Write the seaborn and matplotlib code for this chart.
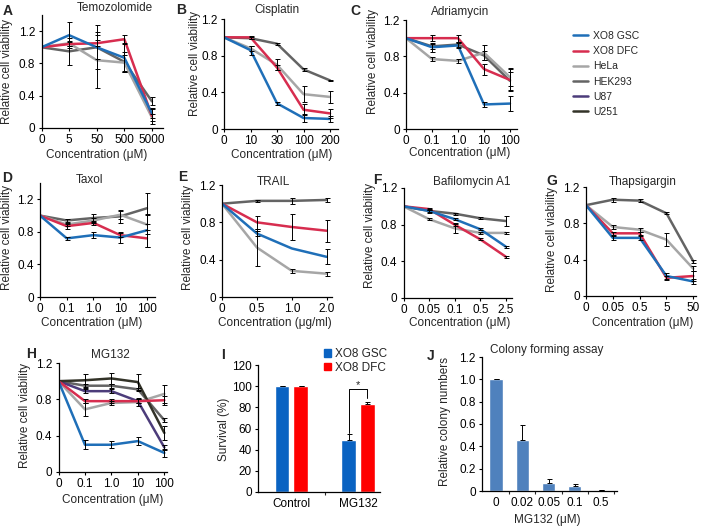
import numpy as np
import pandas as pd
import matplotlib
matplotlib.use("Agg")
import matplotlib.pyplot as plt
import seaborn as sns
from matplotlib.lines import Line2D
from matplotlib.patches import Patch

sns.set_style("ticks")
plt.rcParams['font.family'] = ['Liberation Sans', 'DejaVu Sans']
plt.rcParams['font.size'] = 8.5
plt.rcParams['axes.linewidth'] = 0.9
plt.rcParams['axes.edgecolor'] = 'black'

# ---------------- data ----------------
cell_lines = ["XO8 GSC", "XO8 DFC", "HeLa", "HEK293", "U87", "U251"]
line_colors = ["#1f6fb8", "#d72d4f", "#a6a6a6", "#646464", "#4c3c7a", "#333328"]

tmz_doses = ["0", "5", "50", "500", "5000"]
tmz_mean = {"XO8 GSC": [1.0, 1.15, 1.0, 0.87, 0.18], "XO8 DFC": [1.0, 1.04, 1.05, 1.10, 0.15],
            "HeLa": [1.0, 1.05, 0.84, 0.81, 0.13], "HEK293": [1.0, 0.95, 1.0, 0.82, 0.33]}
tmz_err = {"XO8 GSC": [0, 0.16, 0.27, 0.17, 0.06], "XO8 DFC": [0, 0.02, 0.04, 0.05, 0.10],
           "HeLa": [0, 0.03, 0.35, 0.10, 0.04], "HEK293": [0, 0.17, 0.15, 0.12, 0.05]}

cis_doses = ["0", "10", "30", "100", "200"]
cis_mean = {"XO8 GSC": [1.0, 0.86, 0.28, 0.12, 0.11], "XO8 DFC": [1.0, 1.0, 0.67, 0.21, 0.17],
            "HeLa": [1.0, 0.88, 0.70, 0.38, 0.35], "HEK293": [1.0, 0.99, 0.93, 0.65, 0.53]}
cis_err = {"XO8 GSC": [0, 0.05, 0.02, 0.04, 0.03], "XO8 DFC": [0, 0.02, 0.03, 0.06, 0.05],
           "HeLa": [0, 0.03, 0.06, 0.09, 0.07], "HEK293": [0, 0.01, 0.01, 0.015, 0.01]}

adr_doses = ["0", "0.1", "1.0", "10", "100"]
adr_mean = {"XO8 GSC": [1.0, 0.90, 0.92, 0.27, 0.28], "XO8 DFC": [1.0, 1.0, 1.0, 0.66, 0.54],
            "HeLa": [1.0, 0.77, 0.75, 0.84, 0.57], "HEK293": [1.0, 0.91, 0.93, 0.81, 0.53]}
adr_err = {"XO8 GSC": [0, 0.05, 0.03, 0.03, 0.08], "XO8 DFC": [0, 0.03, 0.04, 0.06, 0.12],
           "HeLa": [0, 0.02, 0.02, 0.08, 0.10], "HEK293": [0, 0.03, 0.03, 0.05, 0.10]}

tax_doses = ["0", "0.1", "1.0", "10", "100"]
tax_mean = {"XO8 GSC": [1.0, 0.72, 0.76, 0.73, 0.82], "XO8 DFC": [1.0, 0.87, 0.91, 0.76, 0.72],
            "HeLa": [1.0, 0.89, 0.94, 1.01, 0.89], "HEK293": [1.0, 0.94, 0.97, 0.99, 1.09]}
tax_err = {"XO8 GSC": [0, 0.02, 0.04, 0.07, 0.20], "XO8 DFC": [0, 0.03, 0.02, 0.02, 0.10],
           "HeLa": [0, 0.02, 0.03, 0.05, 0.12], "HEK293": [0, 0.02, 0.05, 0.08, 0.19]}

trail_doses = ["0", "0.5", "1.0", "2.0"]
trail_mean = {"XO8 GSC": [1.0, 0.68, 0.52, 0.43], "XO8 DFC": [1.0, 0.80, 0.75, 0.71],
              "HeLa": [1.0, 0.53, 0.28, 0.25], "HEK293": [1.0, 1.03, 1.03, 1.04]}
trail_err = {"XO8 GSC": [0, 0.03, 0, 0.08], "XO8 DFC": [0, 0.07, 0.14, 0.12],
             "HeLa": [0, 0.20, 0.02, 0.02], "HEK293": [0, 0.01, 0.03, 0.02]}

baf_doses = ["0", "0.05", "0.1", "0.5", "2.5"]
baf_mean = {"XO8 GSC": [1.0, 0.95, 0.86, 0.75, 0.56], "XO8 DFC": [1.0, 0.97, 0.80, 0.64, 0.45],
            "HeLa": [1.0, 0.86, 0.76, 0.71, 0.71], "HEK293": [1.0, 0.95, 0.92, 0.87, 0.84]}
baf_err = {"XO8 GSC": [0, 0.01, 0.01, 0.01, 0.01], "XO8 DFC": [0, 0.01, 0.02, 0.01, 0.01],
           "HeLa": [0, 0.01, 0.05, 0.01, 0.01], "HEK293": [0, 0.02, 0.01, 0.01, 0.05]}

tg_doses = ["0", "0.05", "0.5", "5", "50"]
tg_mean = {"XO8 GSC": [1.0, 0.64, 0.64, 0.22, 0.16], "XO8 DFC": [1.0, 0.69, 0.69, 0.20, 0.22],
           "HeLa": [1.0, 0.76, 0.73, 0.62, 0.30], "HEK293": [1.0, 1.06, 1.05, 0.91, 0.38]}
tg_err = {"XO8 GSC": [0, 0.02, 0.02, 0.03, 0.03], "XO8 DFC": [0, 0.02, 0.02, 0.02, 0.06],
          "HeLa": [0, 0.02, 0.02, 0.07, 0.03], "HEK293": [0, 0.02, 0.02, 0.01, 0.02]}

mg_doses = ["0", "0.1", "1.0", "10", "100"]
mg_mean = {"XO8 GSC": [1.0, 0.30, 0.30, 0.34, 0.21], "XO8 DFC": [1.0, 0.78, 0.78, 0.78, 0.79],
           "HeLa": [1.0, 0.69, 0.76, 0.77, 0.86], "HEK293": [1.0, 0.95, 0.95, 0.91, 0.57],
           "U87": [1.0, 0.89, 0.89, 0.78, 0.27], "U251": [1.0, 1.01, 1.03, 0.99, 0.43]}
mg_err = {"XO8 GSC": [0, 0.05, 0.04, 0.04, 0.04], "XO8 DFC": [0, 0.02, 0.02, 0.02, 0.05],
          "HeLa": [0, 0.07, 0.02, 0.04, 0.10], "HEK293": [0, 0.02, 0.02, 0.02, 0.02],
          "U87": [0, 0.02, 0.02, 0.02, 0.03], "U251": [0, 0.07, 0.06, 0.09, 0.08]}

surv_groups = ["Control", "MG132"]
surv_gsc = [100, 49]
surv_gsc_err = [0.5, 5.5]
surv_dfc = [100, 83]
surv_dfc_err = [0.5, 2.0]

colony_doses = ["0", "0.02", "0.05", "0.1", "0.5"]
colony_mean = [1.0, 0.46, 0.07, 0.045, 0.005]
colony_err = [0.005, 0.13, 0.04, 0.015, 0.002]

# ---------------- layout helpers ----------------
W, H = 709, 528
fig = plt.figure(figsize=(W / 100, H / 100), dpi=100)
fig.patch.set_facecolor("white")
palette = dict(zip(cell_lines, line_colors))
draw_order = ["HEK293", "HeLa", "U87", "U251", "XO8 DFC", "XO8 GSC"]


def fx(x):
    return x / W


def fy(y):
    return 1 - y / H


def add_ax(l, t, r, b):
    return fig.add_axes([l / W, 1 - b / H, (r - l) / W, (b - t) / H])


def fmt_y(v):
    return "0" if v == 0 else f"{v:.1f}"


def style_axis(ax):
    sns.despine(ax=ax)
    ax.tick_params(direction="out", length=2.5, width=0.8, pad=2, labelsize=8.5, colors="black")
    ax.set_facecolor("white")


def label_axes(ax, xlabel, xlab_xy, ylabel, ylab_xy):
    if xlabel:
        ax.set_xlabel(xlabel, fontsize=8.5)
        ax.xaxis.set_label_coords(fx(xlab_xy[0]), fy(xlab_xy[1]), transform=fig.transFigure)
        ax.xaxis.label.set_va("center")
    else:
        ax.set_xlabel("")
    ax.set_ylabel(ylabel, fontsize=8.5)
    ax.yaxis.set_label_coords(fx(ylab_xy[0]), fy(ylab_xy[1]), transform=fig.transFigure)
    ax.yaxis.label.set_va("center")


def line_panel(rect, ylim, xlim, doses, means, errs, title, title_xy, xlab_xy, ylab_xy,
               letter, letter_xy, xlabel="Concentration (\u03bcM)"):
    ax = add_ax(*rect)
    rows = []
    for name, vals in means.items():
        for i, v in enumerate(vals):
            rows.append({"pos": i, "value": v, "cell": name})
    df = pd.DataFrame(rows)
    order = [c for c in draw_order if c in means]
    sns.lineplot(data=df, x="pos", y="value", hue="cell", hue_order=order, palette=palette,
                 linewidth=1.8, errorbar=None, legend=False, ax=ax, zorder=2)
    for name in order:
        e = np.array(errs[name], dtype=float)
        m = np.array(means[name], dtype=float)
        idx = np.where(e > 0)[0]
        ax.errorbar(idx, m[idx], yerr=e[idx], fmt="none", ecolor="black", elinewidth=0.7,
                    capsize=1.8, capthick=0.7, zorder=3)
    ax.set_xlim(*xlim)
    ax.set_ylim(*ylim)
    ax.set_xticks(range(len(doses)))
    ax.set_xticklabels(doses)
    yt = [0, 0.4, 0.8, 1.2]
    ax.set_yticks(yt)
    ax.set_yticklabels([fmt_y(v) for v in yt])
    style_axis(ax)
    label_axes(ax, xlabel, xlab_xy, "Relative cell viability", ylab_xy)
    fig.text(fx(title_xy[0]), fy(title_xy[1]), title, ha="center", va="center", fontsize=8.5)
    fig.text(fx(letter_xy[0]), fy(letter_xy[1]), letter, ha="center", va="center",
             fontsize=10, fontweight="bold")
    return ax


line_panel((41.5, 15, 163, 128), (0, 1.4), (0, 4.4), tmz_doses, tmz_mean, tmz_err,
           "Temozolomide", (115, 8), (97, 155), (7, 71), "A", (8, 11))
line_panel((224, 19, 338, 129), (0, 1.2), (0, 4.3), cis_doses, cis_mean, cis_err,
           "Cisplatin", (277, 10), (282, 155), (195, 63), "B", (181, 10))
line_panel((406, 20, 517, 129), (0, 1.2), (0, 4.27), adr_doses, adr_mean, adr_err,
           "Adriamycin", (460, 12), (460, 153), (373, 62), "C", (355, 11))
line_panel((40, 183, 155, 297), (0, 1.4), (0, 4.3), tax_doses, tax_mean, tax_err,
           "Taxol", (90, 180), (92, 323), (7, 237), "D", (7, 178))
line_panel((222, 185, 332, 297), (0, 1.2), (0, 3.15), trail_doses, trail_mean, trail_err,
           "TRAIL", (273, 182), (275, 323), (188, 238), "E", (183, 177),
           xlabel="Concentration (\u03bcg/ml)")
line_panel((403.5, 188, 512, 298), (0, 1.2), (0, 4.24), baf_doses, baf_mean, baf_err,
           "Bafilomycin A1", (472, 182), (460, 323), (370, 236), "F", (377, 180))
line_panel((586, 187, 696, 296), (0, 1.2), (0, 4.1), tg_doses, tg_mean, tg_err,
           "Thapsigargin", (643, 182), (643, 323), (552, 240), "G", (552, 181))
line_panel((58.5, 363, 167, 472), (0, 1.2), (0, 4.1), mg_doses, mg_mean, mg_err,
           "MG132", (110, 355), (113, 500), (25, 415), "H", (31, 354))

# legend for line panels
handles = [Line2D([0], [0], color=c, lw=1.8) for c in line_colors]
fig.legend(handles, cell_lines, loc="upper left", bbox_to_anchor=(fx(573), fy(31)),
           frameon=False, fontsize=7.5, handlelength=1.45, handletextpad=0.5,
           labelspacing=0.5, borderpad=0, borderaxespad=0)

# ---------------- panel I ----------------
axI = add_ax(258, 365, 380, 492)
df_i = pd.DataFrame({
    "group": surv_groups * 2,
    "survival": surv_gsc + surv_dfc,
    "cell": ["XO8 GSC"] * 2 + ["XO8 DFC"] * 2,
})
bar_palette = {"XO8 GSC": "#0a63c2", "XO8 DFC": "#ff0000"}
sns.barplot(data=df_i, x="group", y="survival", hue="cell", hue_order=["XO8 GSC", "XO8 DFC"],
            palette=bar_palette, width=0.56, gap=0.2, errorbar=None, legend=False, ax=axI,
            saturation=1)
off = 0.14
axI.errorbar(np.arange(2) - off, surv_gsc, yerr=[np.zeros(2), surv_gsc_err], fmt="none",
             ecolor="black", elinewidth=0.7, capsize=1.8, capthick=0.7)
axI.errorbar(np.arange(2) + off, surv_dfc, yerr=[np.zeros(2), surv_dfc_err], fmt="none",
             ecolor="black", elinewidth=0.7, capsize=1.8, capthick=0.7)
axI.plot([1 - off, 1 - off, 1 + off, 1 + off], [56, 97, 97, 89], color="black", lw=0.7)
axI.text(1, 96, "*", ha="center", va="bottom", fontsize=8)
axI.set_xlim(-0.5, 1.33)
axI.set_ylim(0, 120)
axI.set_yticks(range(0, 121, 20))
axI.set_xticks([0, 1])
axI.set_xticklabels(surv_groups)
style_axis(axI)
axI.tick_params(axis="x", length=0, pad=4.5)
axI.set_xticks([0.5], minor=True)
axI.tick_params(axis="x", which="minor", direction="out", length=2.5, width=0.8)
label_axes(axI, None, None, "Survival (%)", (224, 429))
axI.legend([Patch(color=bar_palette["XO8 GSC"]), Patch(color=bar_palette["XO8 DFC"])],
           ["XO8 GSC", "XO8 DFC"], loc="upper left", bbox_to_anchor=(fx(324), fy(348)),
           bbox_transform=fig.transFigure, frameon=False, fontsize=8.5, handlelength=0.6,
           handleheight=0.6, handletextpad=0.3, labelspacing=0.15, borderpad=0, borderaxespad=0)
fig.text(fx(223), fy(355), "I", ha="center", va="center", fontsize=10, fontweight="bold")

# ---------------- panel J ----------------
axJ = add_ax(482, 357, 617, 491)
df_j = pd.DataFrame({"dose": colony_doses, "colonies": colony_mean})
sns.barplot(data=df_j, x="dose", y="colonies", order=colony_doses, color="#4f81bd",
            width=0.5, errorbar=None, ax=axJ, saturation=1)
axJ.errorbar(np.arange(len(colony_doses)), colony_mean,
             yerr=[np.zeros(len(colony_err)), colony_err], fmt="none", ecolor="black",
             elinewidth=0.7, capsize=1.8, capthick=0.7)
axJ.set_xlim(-0.53, 4.6)
axJ.set_ylim(0, 1.2)
yj = [0, 0.2, 0.4, 0.6, 0.8, 1.0, 1.2]
axJ.set_yticks(yj)
axJ.set_yticklabels([fmt_y(v) for v in yj])
style_axis(axJ)
axJ.tick_params(axis="x", length=0, pad=4.5)
axJ.set_xticks([0.5, 1.5, 2.5, 3.5, 4.5], minor=True)
axJ.tick_params(axis="x", which="minor", direction="out", length=2.5, width=0.8)
label_axes(axJ, "MG132 (\u03bcM)", (547, 520), "Relative colony numbers", (445, 421))
fig.text(fx(547), fy(350), "Colony forming assay", ha="center", va="center", fontsize=8.5)
fig.text(fx(431), fy(356), "J", ha="center", va="center", fontsize=10, fontweight="bold")

fig.savefig("out.png", dpi=100, facecolor="white")
